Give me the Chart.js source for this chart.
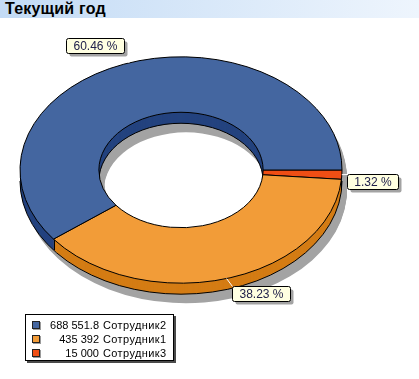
<!DOCTYPE html>
<html><head><meta charset="utf-8">
<script src="https://cdn.jsdelivr.net/npm/chart.js@4"></script>
<style>
html,body{margin:0;padding:0;background:#fff;}
#wrap{position:relative;width:419px;height:379px;overflow:hidden;font-family:"Liberation Sans",Arial,sans-serif;}
#title{position:absolute;left:0;top:0;width:419px;height:18px;background:linear-gradient(to right,#c3dbf5,#eef5fd);font-weight:bold;font-size:16px;line-height:18px;padding-left:5px;box-sizing:border-box;color:#000;letter-spacing:0.2px;}
canvas{position:absolute;left:0;top:0;}
#legend{position:absolute;left:25px;top:314px;width:149px;height:47px;border:1px solid #000;background:#fff;box-shadow:2px 2px 0 #4a4a4a;font-size:11px;box-sizing:border-box;color:#000;}
.row{position:absolute;left:0;width:100%;height:14px;line-height:14px;}
.sw{position:absolute;left:6px;top:3px;width:8px;height:8px;border:1px solid #222;box-sizing:border-box;box-shadow:1px 1px 0 #9a9a9a;}
.num{position:absolute;right:74px;top:0;text-align:right;white-space:nowrap;}
.name{position:absolute;left:77px;top:0;white-space:nowrap;letter-spacing:0.4px;}
</style></head>
<body>
<div id="wrap">
  <canvas id="c" width="419" height="379"></canvas>
  <div id="title">Текущий год</div>
  <div id="legend"></div>
</div>
<script>
// ---- data ----
const categories = ['Сотрудник2', 'Сотрудник1', 'Сотрудник3'];
const values = [688551.8, 435392, 15000];
const topColors = ['#4466a0', '#f29c38', '#f04e14'];
const sideColors = ['#24437f', '#d47c14', '#c03c0a'];

// ---- helpers ----
const total = values.reduce((s, v) => s + v, 0);
const percentLabels = values.map(v => (v / total * 100).toFixed(2) + ' %');
function fmt(v) {
  const parts = String(v).split('.');
  parts[0] = parts[0].replace(/\B(?=(\d{3})+(?!\d))/g, ' ');
  return parts.join('.');
}

// legend (HTML, from the arrays)
const legend = document.getElementById('legend');
categories.forEach((c, i) => {
  const row = document.createElement('div');
  row.className = 'row';
  row.style.top = (3 + i * 14) + 'px';
  row.innerHTML = '<div class="sw" style="background:' + topColors[i] + '"></div>' +
    '<span class="num">' + fmt(values[i]) + '</span><span class="name">' + c + '</span>';
  legend.appendChild(row);
});

// chart draws clockwise; reference runs counter-clockwise -> reverse order
const order = values.map((_, i) => i).reverse();
const chartLabels = order.map(i => categories[i]);
const chartValues = order.map(i => values[i]);
const chartTop = order.map(i => topColors[i]);
const chartSide = order.map(i => sideColors[i]);
const chartPct = order.map(i => percentLabels[i]);

const K = 0.703, DEPTH = 11, SHX = 5, SHY = 9;

const ring3d = {
  id: 'ring3d',
  beforeDatasetsDraw(chart) {
    const ctx = chart.ctx;
    const arcs = chart.getDatasetMeta(0).data;
    function path(a, dx, dy) {
      ctx.beginPath();
      ctx.ellipse(a.x + dx, a.y + dy, a.outerRadius, a.outerRadius * K, 0, a.startAngle, a.endAngle);
      ctx.ellipse(a.x + dx, a.y + dy, a.innerRadius, a.innerRadius * K, 0, a.endAngle, a.startAngle, true);
      ctx.closePath();
    }
    ctx.save();
    // shadow
    ctx.fillStyle = '#a3a3a3';
    for (let d = 0; d <= DEPTH; d++) arcs.forEach(a => { path(a, SHX, SHY + d); ctx.fill(); });
    // side walls
    for (let d = DEPTH; d >= 1; d--) arcs.forEach((a, i) => { path(a, 0, d); ctx.fillStyle = chartSide[i]; ctx.fill(); });
    // wall outlines
    const a0 = arcs[0];
    const cx = a0.x, cy = a0.y, R = a0.outerRadius, r = a0.innerRadius;
    ctx.strokeStyle = '#000'; ctx.lineWidth = 1;
    ctx.beginPath(); ctx.ellipse(cx, cy + DEPTH, R, R * K, 0, 0, Math.PI); ctx.stroke();
    ctx.beginPath(); ctx.ellipse(cx, cy + DEPTH, r, r * K, 0, Math.PI, 2 * Math.PI); ctx.stroke();
    ctx.beginPath();
    ctx.moveTo(Math.round(cx - R) + 0.5, cy); ctx.lineTo(Math.round(cx - R) + 0.5, cy + DEPTH);
    ctx.moveTo(Math.round(cx + R) - 0.5, cy); ctx.lineTo(Math.round(cx + R) - 0.5, cy + DEPTH);
    arcs.forEach(a => {
      const t = a.startAngle;
      const s = Math.sin(t), c = Math.cos(t);
      if (s > 0.01) {
        const x = Math.round(cx + R * c) + 0.5, y = cy + R * K * s;
        ctx.moveTo(x, y); ctx.lineTo(x, y + DEPTH);
      } else if (s < -0.01) {
        const x = Math.round(cx + r * c) + 0.5, y = cy + r * K * s;
        ctx.moveTo(x, y); ctx.lineTo(x, y + DEPTH);
      }
    });
    ctx.stroke();
    // top faces
    arcs.forEach((a, i) => {
      path(a, 0, 0);
      ctx.fillStyle = chartTop[i]; ctx.fill();
      ctx.strokeStyle = '#000'; ctx.lineWidth = 1; ctx.stroke();
    });
    ctx.restore();
    return false;
  },
  afterDraw(chart) {
    const ctx = chart.ctx;
    const arcs = chart.getDatasetMeta(0).data;
    ctx.save();
    ctx.font = '12px "Liberation Sans", Arial, sans-serif';
    ctx.textAlign = 'center'; ctx.textBaseline = 'middle';
    arcs.forEach((a, i) => {
      const m = (a.startAngle + a.endAngle) / 2;
      const c = Math.cos(m), s = Math.sin(m);
      const px = a.x + a.outerRadius * c, py = a.y + a.outerRadius * K * s;
      const txt = chartPct[i];
      const w = Math.round(ctx.measureText(txt).width + 14), h = 15;
      const bx = px + Math.sign(c) * (w / 2 + 5);
      const by = py + (s >= 0 ? Math.max(6.5, 16 * s) : 18 * s);
      const L = Math.round(bx - w / 2) + 0.5, T = Math.round(by - h / 2) + 0.5;
      // leader
      const ex = c >= 0 ? L : L + w, ey = s >= 0 ? T : T + h;
      ctx.strokeStyle = '#fff'; ctx.lineWidth = 1;
      ctx.beginPath(); ctx.moveTo(px, py); ctx.lineTo(ex, ey); ctx.stroke();
      // shadow
      ctx.fillStyle = '#a3a3a3';
      ctx.beginPath(); ctx.roundRect(L + 3, T + 3, w, h, 2); ctx.fill();
      // box
      ctx.fillStyle = '#ffffe1'; ctx.strokeStyle = '#000';
      ctx.beginPath(); ctx.roundRect(L, T, w, h, 2); ctx.fill(); ctx.stroke();
      ctx.fillStyle = '#20204a';
      ctx.fillText(txt, L + w / 2, T + h / 2 + 0.5);
    });
    ctx.restore();
  }
};

new Chart(document.getElementById('c'), {
  type: 'doughnut',
  data: {
    labels: chartLabels,
    datasets: [{ data: chartValues, backgroundColor: chartTop, borderWidth: 0 }]
  },
  options: {
    responsive: false,
    animation: false,
    rotation: 90,
    cutout: '51%',
    events: [],
    layout: { padding: { left: 20, right: 77, top: 9, bottom: 48 } },
    plugins: { legend: { display: false }, tooltip: { enabled: false } }
  },
  plugins: [ring3d]
});
</script>
</body></html>
